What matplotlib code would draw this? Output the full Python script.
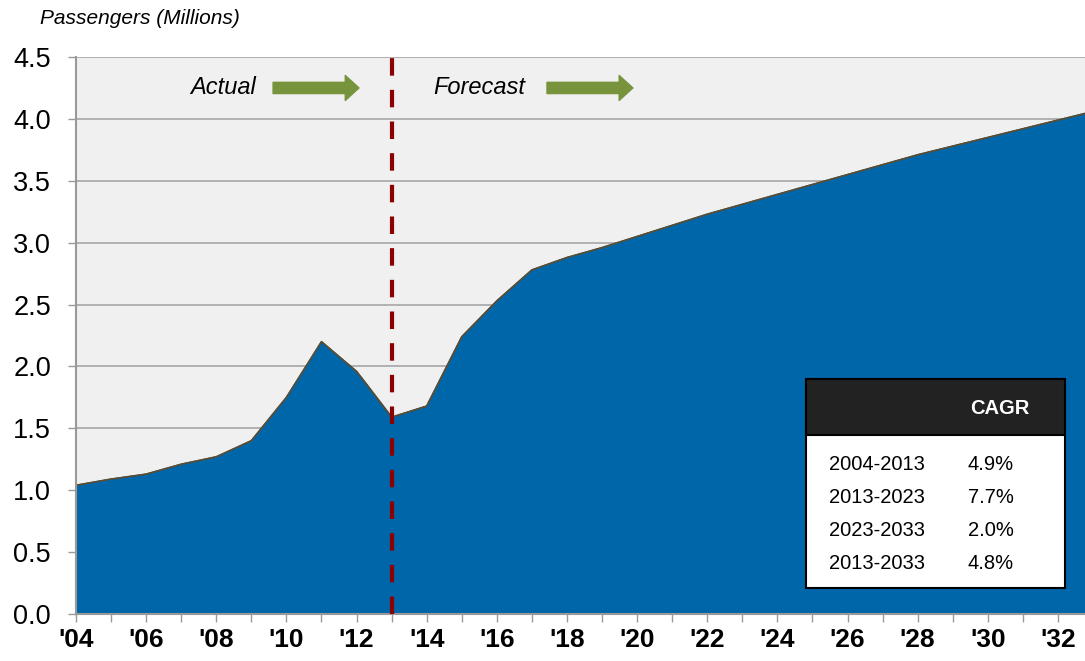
import matplotlib
matplotlib.use("Agg")
import matplotlib.pyplot as plt
import matplotlib.patheffects as pe
from matplotlib.patches import Rectangle

plt.rcParams['font.family'] = ['Liberation Sans', 'DejaVu Sans']

# passenger data, millions (actual 2004-2013, forecast 2014-2033)
years = list(range(2004, 2034))
passengers = [1.04, 1.09, 1.13, 1.21, 1.27, 1.40, 1.75, 2.20, 1.96, 1.59,
              1.68, 2.24, 2.53, 2.78, 2.88, 2.96, 3.05, 3.14, 3.23, 3.31,
              3.39, 3.47, 3.55, 3.63, 3.71, 3.78, 3.85, 3.92, 3.99, 4.06]

cagr_periods = ["2004-2013", "2013-2023", "2023-2033", "2013-2033"]
cagr_values = ["4.9%", "7.7%", "2.0%", "4.8%"]

W, H = 1085, 661
fig = plt.figure(figsize=(W / 100, H / 100), dpi=100)
ax = fig.add_axes([76 / W, (H - 614) / H, 1 - 76 / W, (614 - 57) / H])

def px(x, y):
    return x / W, (H - y) / H

blue = "#0066AA"
ax.set_facecolor("#F0F0F0")

ax.fill_between(years, passengers, 0, color=blue, zorder=2,
                path_effects=[pe.SimplePatchShadow(offset=(4, -4), alpha=0.3, shadow_rgbFace="black"),
                              pe.Normal()])
ax.plot(years, passengers, color="#5E4B2C", lw=1.2, zorder=3)

ax.set_xlim(2004, 2004 + (1085 - 76) / 35.07)
ax.set_ylim(0, 4.5)
ax.set_yticks([i * 0.5 for i in range(10)])
ax.set_yticklabels([f"{i * 0.5:.1f}" for i in range(10)], fontsize=19.5)
ax.set_xticks(years[:-1])
ax.set_xticklabels([f"'{y % 100:02d}" if y % 2 == 0 else "" for y in years[:-1]],
                   fontsize=19, fontweight="bold")
ax.tick_params(axis="both", direction="out", length=6, width=1, color="#999999")
ax.tick_params(axis="x", pad=4)
ax.tick_params(axis="y", pad=12)
ax.grid(axis="y", color="#A6A6A6", lw=1.2, zorder=1)
ax.set_axisbelow(True)
for s in ["top", "right"]:
    ax.spines[s].set_visible(False)
for s in ["left", "bottom"]:
    ax.spines[s].set_color("#999999")
    ax.spines[s].set_linewidth(1.5)
    ax.spines[s].set_zorder(4)

# actual / forecast divider
ax.axvline(2013, color="#8B0000", lw=3, dashes=(4.2, 3.4), zorder=5)

fig.text(*px(40, 19), "Passengers (Millions)", fontsize=15, style="italic", va="center")

ax.text(2009.13, 4.25, "Actual", fontsize=17, style="italic", ha="right", va="center")
ax.annotate("", xy=(2012.07, 4.25), xytext=(2009.62, 4.25),
            arrowprops=dict(arrowstyle="simple,head_length=0.55,head_width=1.0,tail_width=0.45",
                            color="#77933C", mutation_scale=18, shrinkA=0, shrinkB=0))
ax.text(2014.18, 4.25, "Forecast", fontsize=17, style="italic", ha="left", va="center")
ax.annotate("", xy=(2019.88, 4.25), xytext=(2017.43, 4.25),
            arrowprops=dict(arrowstyle="simple,head_length=0.55,head_width=1.0,tail_width=0.45",
                            color="#77933C", mutation_scale=18, shrinkA=0, shrinkB=0))

# CAGR table
x0, y0 = px(806, 588)
x1, y1 = px(1065, 379)
fig.add_artist(Rectangle((x0, y0), x1 - x0, y1 - y0, transform=fig.transFigure,
                         facecolor="white", edgecolor="black", lw=1.5, zorder=10))
hx, hy = px(806, 435)
fig.add_artist(Rectangle((hx, hy), x1 - x0, y1 - hy, transform=fig.transFigure,
                         facecolor="#222222", edgecolor="black", lw=1.5, zorder=11))
fig.text(*px(1000, 408), "CAGR", fontsize=14.5, fontweight="bold", color="white",
         ha="center", va="center", zorder=12)
for i, (p, v) in enumerate(zip(cagr_periods, cagr_values)):
    yy = 465 + i * 32.7
    fig.text(*px(829, yy), p, fontsize=14.5, ha="left", va="center", zorder=12)
    fig.text(*px(968, yy), v, fontsize=14.5, ha="left", va="center", zorder=12)

fig.savefig("out.png", dpi=100)
